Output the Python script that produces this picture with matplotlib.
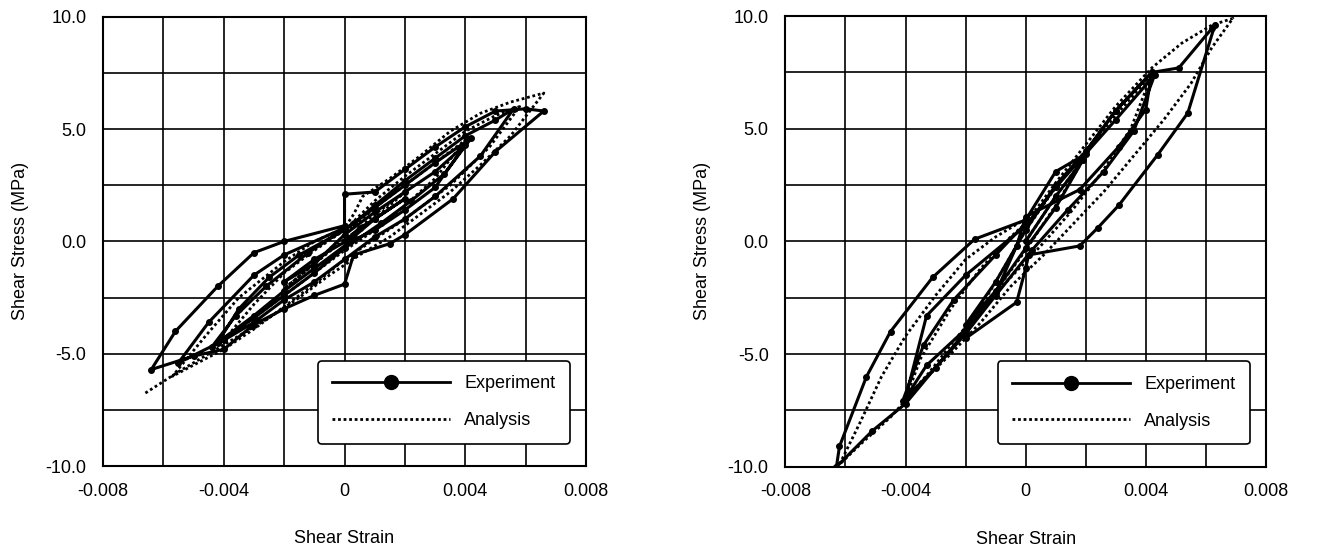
import matplotlib
matplotlib.use("Agg")
import matplotlib.pyplot as plt
from matplotlib.lines import Line2D

plt.rcParams['font.family'] = ['Liberation Sans Narrow', 'Liberation Sans', 'DejaVu Sans']

# strain values are in units of 1e-3, stress in MPa
# left panel - experiment
exp1_x = [0, 0.5, 1.0, 2.0, 1.0, 0.3, -1.0, -2.0, -1.0, 0.0,
          1.0, 2.0, 3.0, 4.0, 3.0, 2.0, 1.0, 0.2, -1.0, -2.0, -3.0, -4.2, -3.5, -2.5, -1.5, 0.0,
          1.0, 2.0, 3.0, 4.2, 3.3, 2.2, 1.2, 0.0, -1.0, -2.0, -3.0, -4.4, -3.6, -2.6, -1.2, 0.3,
          1.0, 2.0, 3.0, 4.0, 5.0, 5.6, 4.5, 3.0, 2.0, 1.0, 0.0, -1.0, -2.0, -3.0, -4.0, -5.5, -4.5, -3.0, -2.0, 0.0,
          0.0, 1.0, 2.0, 3.0, 4.0, 5.0, 6.0, 6.6, 5.0, 3.6, 2.0, 1.5, 0.3, 0.0, -1.0, -2.0, -3.0, -4.0, -5.0, -6.4,
          -5.6, -4.2, -3.0, -2.0, 0.0]
exp1_y = [0, 0.6, 1.0, 1.9, 1.0, 0.2, -0.8, -1.8, -1.0, 0.3,
          1.3, 2.2, 3.1, 4.3, 2.4, 1.4, 0.5, 0.0, -1.2, -2.2, -3.3, -4.5, -3.0, -1.6, -0.6, 0.5,
          1.5, 2.5, 3.5, 4.6, 3.0, 1.8, 0.8, -0.3, -1.4, -2.4, -3.4, -4.7, -3.3, -2.0, -0.5, 0.8,
          1.6, 2.7, 3.7, 4.7, 5.4, 5.9, 3.8, 2.0, 1.0, 0.2, -0.8, -1.8, -2.6, -3.6, -4.4, -5.4, -3.6, -1.5, -0.6, 0.6,
          2.1, 2.2, 3.2, 4.2, 5.1, 5.8, 5.9, 5.8, 4.0, 1.9, 0.3, -0.1, -0.6, -1.9, -2.4, -3.0, -3.7, -4.8, -5.1, -5.7,
          -4.0, -2.0, -0.5, 0.0, 0.7]

# left panel - analysis
ana1_x = [0, 1, 2, 1, 0, -1, -2, -1, 0,
          1, 2, 3, 4, 3, 2, 1, 0, -1, -2, -3, -4, -3, -2, -1, 0,
          1, 2, 3, 4, 5, 5.8, 4.8, 3.5, 2, 1, 0, -1, -2, -3, -4, -5, -5.7, -4.6, -3.5, -2, -1, 0,
          0.3, 0.6, 1.5, 2.5, 3.5, 4.5, 5.5, 6.6, 5.5, 4.5, 3.5, 2.5, 1.5, 0.5, -0.5, -1.5, -2.5, -3.5, -4.5, -5.5, -6.6]
ana1_y = [0, 1.2, 2.2, 1.0, 0.1, -1.0, -2.1, -1.0, 0.3,
          1.5, 2.5, 3.5, 4.5, 2.8, 1.6, 0.5, -0.4, -1.4, -2.4, -3.4, -4.4, -2.8, -1.4, -0.4, 0.5,
          1.8, 2.9, 3.9, 4.9, 5.6, 6.0, 4.2, 2.5, 1.0, 0.1, -0.8, -1.9, -2.9, -3.9, -4.8, -5.5, -6.0, -4.2, -2.5, -0.9, 0.0, 0.6,
          1.2, 2.0, 2.8, 3.8, 4.9, 5.7, 6.2, 6.6, 4.7, 3.4, 2.2, 1.2, 0.2, -0.6, -1.5, -2.5, -3.4, -4.2, -5.0, -5.8, -6.75]

# right panel - experiment
exp2_x = [0, 1.0, 1.9, 1.0, 0.0, -1.0, -2.0, -1.0, 0.0,
          1.0, 2.0, 3.0, 4.2, 4.0, 3.1, 1.8, 0.0, -0.3, -1.0, -2.0, -3.3, -4.0, -3.3, -2.0, 0.0,
          1.0, 2.0, 3.0, 4.3, 3.6, 2.6, 1.4, 0.2, -1.0, -2.0, -3.0, -4.1, -3.4, -2.4, -1.0, 0.0,
          0.0, 1.0, 1.9, 3.0, 4.2, 5.1, 6.2, 6.3, 5.4, 4.4, 3.1, 2.4, 1.8, 0.1, 0.0, -0.3, -2.0, -2.0, -4.0, -5.1, -6.3,
          -6.2, -5.3, -4.5, -3.1, -1.7, 0.0]
exp2_y = [0, 2.0, 3.6, 1.5, -0.3, -2.2, -3.7, -1.8, 0.5,
          2.5, 4.0, 5.8, 7.5, 5.85, 4.2, 2.3, 1.1, -0.2, -2.3, -3.9, -5.5, -6.95, -3.3, -1.5, 0.7,
          2.4, 3.9, 5.4, 7.4, 4.9, 3.1, 1.4, -0.4, -2.4, -4.1, -5.6, -7.1, -4.6, -2.6, -0.6, 0.8,
          0.95, 3.1, 3.8, 5.8, 7.5, 7.7, 9.45, 9.6, 5.7, 3.85, 1.6, 0.6, -0.2, -0.6, -1.2, -2.7, -4.3, -4.0, -7.2, -8.4, -10.0,
          -9.1, -6.0, -4.0, -1.6, 0.1, 0.95]

# right panel - analysis
ana2_x = [0, 1, 2, 1, 0, -1, -2, -1, 0,
          1, 2, 3, 4.2, 3.5, 2.5, 1.5, 0.5, -0.5, -1.5, -2.5, -3.2, -4.0, -3.5, -2.5, -1.5, -0.5, 0,
          1, 2, 3, 4.2, 5.2, 6.2, 6.9, 6.2, 5.5, 4.6, 3.6, 2.6, 1.6, 0.6, -0.5, -1.5, -2.5, -3.5, -4.5, -5.5, -6.2,
          -5.5, -4.8, -4.0, -3.0, -2.0, -1.0, 0]
ana2_y = [0, 2.0, 3.8, 1.6, -0.4, -2.2, -4.0, -1.8, 0.5,
          2.4, 4.0, 5.6, 7.4, 5.0, 3.0, 1.3, -0.2, -1.6, -3.0, -4.6, -5.8, -7.0, -5.2, -3.0, -1.2, 0.2, 0.8,
          2.6, 4.3, 6.0, 7.7, 8.8, 9.6, 9.9, 8.6, 7.0, 5.4, 3.8, 2.2, 0.8, -0.6, -2.0, -3.6, -5.0, -6.3, -7.8, -9.0, -9.9,
          -8.0, -6.0, -4.2, -2.4, -0.8, 0.2, 1.0]

xtick_vals = [-0.008, -0.004, 0, 0.004, 0.008]
xtick_labels = ['-0.008', '-0.004', '0', '0.004', '0.008']
ytick_vals = [-10, -5, 0, 5, 10]

panels = [(exp1_x, exp1_y, ana1_x, ana1_y), (exp2_x, exp2_y, ana2_x, ana2_y)]
positions = [[0.078, 0.160, 0.366, 0.810], [0.595, 0.159, 0.364, 0.812]]

fig = plt.figure(figsize=(13.2, 5.55), dpi=100)

for (ex, ey, ax_, ay), pos in zip(panels, positions):
    ax = fig.add_axes(pos)
    ax.plot([v * 1e-3 for v in ax_], ay, color='black', linestyle=(0, (1, 1)), linewidth=2.0)
    ax.plot([v * 1e-3 for v in ex], ey, color='black', linewidth=2.2, marker='o', markersize=4)
    ax.set_xlim(-0.008, 0.008)
    ax.set_ylim(-10, 10)
    ax.set_xticks(xtick_vals)
    ax.set_xticklabels(xtick_labels)
    ax.set_yticks(ytick_vals)
    ax.set_yticklabels(['%.1f' % v for v in ytick_vals])
    ax.set_xticks([-0.006, -0.002, 0.002, 0.006], minor=True)
    ax.set_yticks([-7.5, -2.5, 2.5, 7.5], minor=True)
    ax.grid(True, which='both', color='black', linewidth=1.2)
    ax.tick_params(which='both', length=0, labelsize=13, pad=12)
    for s in ax.spines.values():
        s.set_linewidth(1.5)
    ax.set_xlabel('Shear Strain', fontsize=13, labelpad=22)
    ax.set_ylabel('Shear Stress (MPa)', fontsize=13, labelpad=12)
    handles = [Line2D([], [], color='black', linewidth=2.0, marker='o', markersize=10),
               Line2D([], [], color='black', linestyle=(0, (1, 1)), linewidth=2.0)]
    leg = ax.legend(handles, ['Experiment', 'Analysis'], loc='lower right',
                    bbox_to_anchor=(0.985, 0.03), fontsize=13, fancybox=True,
                    framealpha=1, edgecolor='black', handlelength=6.5, borderpad=0.8,
                    labelspacing=1.1)
    leg.get_frame().set_linewidth(1.2)

fig.savefig('out.png', dpi=100)
